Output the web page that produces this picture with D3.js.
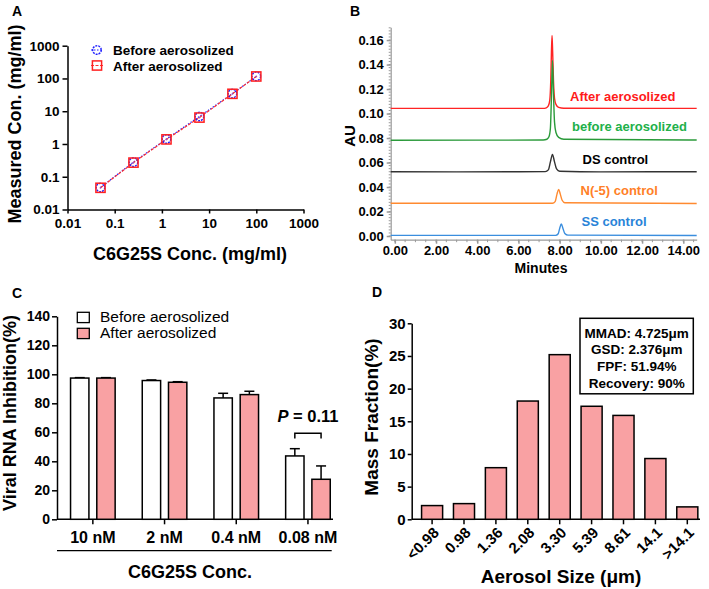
<!DOCTYPE html>
<html><head><meta charset="utf-8">
<script src="https://cdn.jsdelivr.net/npm/d3@7"></script>
<style>
html,body{margin:0;padding:0;background:#fff;}
svg{display:block;}
text{font-family:'Liberation Sans',Arial,sans-serif;}
</style></head>
<body>
<svg id="fig" width="709" height="589"></svg>
<script>
// ---------- Panel A data ----------
const concX = [0.05, 0.25, 1.25, 6.25, 31.25, 100];
const measuredBefore = [0.047, 0.28, 1.42, 6.9, 34.5, 116];
const measuredAfter = [0.046, 0.27, 1.38, 6.4, 34, 115];
const logTicks = [0.01, 0.1, 1, 10, 100, 1000];
const legendA = ["Before aerosolized", "After aerosolized"];

// ---------- Panel B data (time in min, AU) ----------
const traceLabels = ["After aerosolized", "before aerosolized", "DS control", "N(-5) control", "SS control"];
const traceAfter = [[-0.2,0.1042],[7.2,0.1042],[7.35,0.1047],[7.45,0.1062],[7.52,0.111],[7.57,0.128],[7.6,0.150],[7.63,0.1637],[7.66,0.150],[7.7,0.127],[7.75,0.1125],[7.82,0.1075],[7.95,0.105],[8.2,0.1043],[14.65,0.1042]];
const traceBefore = [[-0.2,0.0782],[7.2,0.0784],[7.38,0.079],[7.48,0.081],[7.55,0.088],[7.6,0.113],[7.65,0.1433],[7.7,0.116],[7.75,0.093],[7.82,0.0845],[7.95,0.0805],[8.2,0.079],[14.65,0.0784]];
const traceDS = [[-0.2,0.0525],[3.0,0.0524],[7.3,0.0526],[7.45,0.054],[7.55,0.0605],[7.65,0.0667],[7.75,0.0605],[7.85,0.0548],[8.0,0.0529],[10.0,0.0524],[14.65,0.0525]];
const traceN5 = [[-0.2,0.0268],[7.65,0.0268],[7.78,0.0281],[7.87,0.0342],[7.95,0.0381],[8.03,0.0342],[8.12,0.0292],[8.25,0.0272],[14.65,0.0266]];
const traceSS = [[-0.2,0.0005],[7.8,0.0005],[7.93,0.0019],[8.0,0.0062],[8.08,0.0098],[8.16,0.0062],[8.25,0.0021],[8.4,0.0007],[14.65,0.0004]];
const auTicks = [0, 0.02, 0.04, 0.06, 0.08, 0.10, 0.12, 0.14, 0.16];
const minuteTicks = [0, 2, 4, 6, 8, 10, 12, 14];

// ---------- Panel C data ----------
const concLabels = ["10 nM", "2 nM", "0.4 nM", "0.08 nM"];
const inhibBefore = [97.4, 95.7, 83.7, 43.7];
const inhibBeforeErr = [0.3, 0.4, 3.2, 5.0];
const inhibAfter = [97.4, 94.5, 86.0, 27.6];
const inhibAfterErr = [0.3, 0.4, 2.3, 9.2];
const inhibTicks = [0, 20, 40, 60, 80, 100, 120, 140];
const legendC = ["Before aerosolized", "After aerosolized"];

// ---------- Panel D data ----------
const sizeLabels = ["<0.98", "0.98", "1.36", "2.08", "3.30", "5.39", "8.61", "14.1", ">14.1"];
const massFraction = [2.1, 2.4, 7.9, 18.1, 25.2, 17.3, 15.9, 9.3, 1.9];
const fracTicks = [0, 5, 10, 15, 20, 25, 30];
const infoLines = ["MMAD: 4.725\u03bcm", "GSD: 2.376\u03bcm", "FPF: 51.94%", "Recovery: 90%"];

const PINK = "#f9a1a3";
const svg = d3.select("#fig");

function styleAxis(g, size, color) {
  g.selectAll("text").attr("font-weight", "bold").attr("font-size", size).attr("fill", "#000")
    .attr("font-family", "'Liberation Sans',Arial,sans-serif");
  g.selectAll("path,line").attr("stroke", color || "#000").attr("stroke-width", 1.5);
}

// panel letters
[["A",12,16],["B",350,16],["C",12,298],["D",372,297]].forEach(([t,x,y]) => {
  svg.append("text").attr("x", x).attr("y", y).attr("font-size", 14).attr("font-weight", "bold").text(t);
});

// ================= Panel A =================
{
  const x = d3.scaleLog().domain([0.01, 1000]).range([67.5, 303.5]);
  const y = d3.scaleLog().domain([0.01, 1000]).range([209.5, 45.7]);
  const fmt = d3.format("~g");
  const gx = svg.append("g").attr("transform", "translate(0,209.5)")
    .call(d3.axisBottom(x).tickValues(logTicks).tickFormat(fmt).tickSize(4).tickPadding(5).tickSizeOuter(0));
  styleAxis(gx, 13.5);
  const gy = svg.append("g").attr("transform", "translate(67.5,0)")
    .call(d3.axisLeft(y).tickValues(logTicks).tickFormat(fmt).tickSize(5).tickPadding(3).tickSizeOuter(0));
  styleAxis(gy, 13.5);

  const line = d3.line().x(d => x(d[0])).y(d => y(d[1]));
  const before = concX.map((c, i) => [c, measuredBefore[i]]);
  const after = concX.map((c, i) => [c, measuredAfter[i]]);
  svg.append("path").datum(before).attr("d", line).attr("fill", "none").attr("stroke", "#2020ff")
    .attr("stroke-width", 1.2).attr("stroke-dasharray", "1.5,1.5");
  svg.append("path").datum(after).attr("d", line).attr("fill", "none").attr("stroke", "#ff3030")
    .attr("stroke-width", 1.2).attr("stroke-dasharray", "3,1.5");
  svg.append("g").selectAll("circle").data(before).join("circle")
    .attr("cx", d => x(d[0])).attr("cy", d => y(d[1])).attr("r", 4.3)
    .attr("fill", "none").attr("stroke", "#2020ff").attr("stroke-width", 1.4).attr("stroke-dasharray", "2,1");
  svg.append("g").selectAll("rect").data(after).join("rect")
    .attr("x", d => x(d[0]) - 4.6).attr("y", d => y(d[1]) - 4.6).attr("width", 9.2).attr("height", 9.2)
    .attr("fill", "none").attr("stroke", "#ff2020").attr("stroke-width", 1.5);
  svg.append("g").selectAll("circle").data(after).join("circle")
    .attr("cx", d => x(d[0])).attr("cy", d => y(d[1])).attr("r", 0.9).attr("fill", "#a050c0");

  // legend
  const ly = [50, 65.5];
  svg.append("line").attr("x1", 91).attr("x2", 103).attr("y1", ly[0]).attr("y2", ly[0])
    .attr("stroke", "#2020ff").attr("stroke-dasharray", "1.5,1.5");
  svg.append("circle").attr("cx", 97).attr("cy", ly[0]).attr("r", 4.3).attr("fill", "none")
    .attr("stroke", "#2020ff").attr("stroke-width", 1.4).attr("stroke-dasharray", "2,1");
  svg.append("line").attr("x1", 91).attr("x2", 103).attr("y1", ly[1]).attr("y2", ly[1])
    .attr("stroke", "#ff3030").attr("stroke-dasharray", "3,1.5");
  svg.append("rect").attr("x", 92.4).attr("y", ly[1] - 4.6).attr("width", 9.2).attr("height", 9.2)
    .attr("fill", "none").attr("stroke", "#ff2020").attr("stroke-width", 1.5);
  legendA.forEach((t, i) => svg.append("text").attr("x", 113).attr("y", ly[i] + 5)
    .attr("font-size", 13.5).attr("font-weight", "bold").text(t));

  svg.append("text").attr("x", 190).attr("y", 260).attr("text-anchor", "middle")
    .attr("font-size", 18).attr("font-weight", "bold").text("C6G25S Conc. (mg/ml)");
  svg.append("text").attr("transform", "translate(21,124) rotate(-90)").attr("text-anchor", "middle")
    .attr("font-size", 18).attr("font-weight", "bold").text("Measured Con. (mg/ml)");
}

// ================= Panel B =================
{
  const x = d3.scaleLinear().domain([-0.2, 14.65]).range([390.7, 696.7]);
  const y = d3.scaleLinear().domain([-0.003, 0.1705]).range([239.7, 27.2]);
  const axisCol = "#9a9a9a";
  const gy = svg.append("g").attr("transform", "translate(390.7,0)")
    .call(d3.axisLeft(y).tickValues(auTicks).tickFormat(d3.format(".2f")).tickSize(4).tickPadding(3).tickSizeOuter(0));
  styleAxis(gy, 13, axisCol);
  gy.select("path").attr("stroke-width", 1.2);
  const minorY = d3.range(0, 0.1701, 0.0025);
  svg.append("g").selectAll("line").data(minorY).join("line")
    .attr("x1", 388.7).attr("x2", 390.7).attr("y1", d => y(d)).attr("y2", d => y(d))
    .attr("stroke", axisCol).attr("stroke-width", 1);
  const gx = svg.append("g").attr("transform", "translate(0,239.7)")
    .call(d3.axisBottom(x).tickValues(minuteTicks).tickFormat(d3.format(".2f")).tickSize(4).tickPadding(2).tickSizeOuter(0));
  styleAxis(gx, 13, axisCol);
  gx.select("path").attr("stroke-width", 1.2);
  const minorX = d3.range(0, 14.6, 0.5);
  svg.append("g").selectAll("line").data(minorX).join("line")
    .attr("x1", d => x(d)).attr("x2", d => x(d)).attr("y1", 239.7).attr("y2", 242.2)
    .attr("stroke", axisCol).attr("stroke-width", 1);

  const line = d3.line().x(d => x(d[0])).y(d => y(d[1])).curve(d3.curveMonotoneX);
  const traces = [traceAfter, traceBefore, traceDS, traceN5, traceSS];
  const cols = ["#ff2424", "#2a9a3a", "#333333", "#ff8a30", "#3b8ede"];
  const tcols = ["#ff1a1a", "#22b04a", "#000000", "#ff7f27", "#2a84d8"];
  traces.forEach((tr, i) => svg.append("path").datum(tr).attr("d", line).attr("fill", "none")
    .attr("stroke", cols[i]).attr("stroke-width", 1.4));
  const lpos = [[570, 100.5], [572, 131], [582.5, 163.5], [580.5, 194.5], [581.5, 225.5]];
  traceLabels.forEach((t, i) => svg.append("text").attr("x", lpos[i][0]).attr("y", lpos[i][1])
    .attr("font-size", 13).attr("font-weight", "bold").attr("fill", tcols[i]).text(t));

  svg.append("text").attr("transform", "translate(355,136) rotate(-90)").attr("text-anchor", "middle")
    .attr("font-size", 15).attr("font-weight", "bold").text("AU");
  svg.append("text").attr("x", 541).attr("y", 273).attr("text-anchor", "middle")
    .attr("font-size", 14).attr("font-weight", "bold").text("Minutes");
}

// ================= Panel C =================
{
  const y = d3.scaleLinear().domain([0, 140]).range([519.3, 316.3]);
  const x0 = d3.scaleBand().domain(concLabels).range([57, 343.8]).padding(0);
  const x1 = d3.scaleBand().domain(["before", "after"]).range([-22.3, 22.3]).paddingInner(0.3);
  const gy = svg.append("g").attr("transform", "translate(57,0)")
    .call(d3.axisLeft(y).tickValues(inhibTicks).tickSize(5).tickPadding(2).tickSizeOuter(0));
  styleAxis(gy, 14);
  svg.append("line").attr("x1", 57).attr("x2", 333).attr("y1", 519.3).attr("y2", 519.3)
    .attr("stroke", "#000").attr("stroke-width", 1.5);
  const gx = svg.append("g").attr("transform", "translate(0,519.3)")
    .call(d3.axisBottom(x0).tickSize(5).tickPadding(7).tickSizeOuter(0));
  styleAxis(gx, 16);
  gx.select("path").remove();

  const groups = concLabels.map((c, i) => ({ c, series: [
    { k: "before", v: inhibBefore[i], e: inhibBeforeErr[i], fill: "#ffffff" },
    { k: "after", v: inhibAfter[i], e: inhibAfterErr[i], fill: PINK }] }));
  const g = svg.append("g");
  groups.forEach(gr => {
    const cx = x0(gr.c) + x0.bandwidth() / 2;
    gr.series.forEach(s => {
      const bx = cx + x1(s.k);
      const bc = bx + x1.bandwidth() / 2;
      g.append("line").attr("x1", bc).attr("x2", bc).attr("y1", y(s.v)).attr("y2", y(s.v + s.e))
        .attr("stroke", "#000").attr("stroke-width", 1.5);
      g.append("line").attr("x1", bc - 5).attr("x2", bc + 5).attr("y1", y(s.v + s.e)).attr("y2", y(s.v + s.e))
        .attr("stroke", "#000").attr("stroke-width", 1.5);
      g.append("rect").attr("x", bx).attr("y", y(s.v)).attr("width", x1.bandwidth()).attr("height", y(0) - y(s.v))
        .attr("fill", s.fill).attr("stroke", "#000").attr("stroke-width", 1.5);
    });
  });
  const last = concLabels[3];
  const lc = x0(last) + x0.bandwidth() / 2;
  const bxA = lc + x1("before") + x1.bandwidth() / 2, bxB = lc + x1("after") + x1.bandwidth() / 2;
  svg.append("path").attr("d", `M${bxA},438.5V433.3H${bxB}V438.5`).attr("fill", "none")
    .attr("stroke", "#000").attr("stroke-width", 1.5);
  const pt = svg.append("text").attr("x", (bxA + bxB) / 2).attr("y", 421.7).attr("text-anchor", "middle")
    .attr("font-size", 16.5).attr("font-weight", "bold");
  pt.append("tspan").attr("font-style", "italic").text("P");
  pt.append("tspan").text(" = 0.11");

  const legY = [312.3, 328.3];
  const legF = ["#ffffff", PINK];
  legendC.forEach((t, i) => {
    svg.append("rect").attr("x", 77.3).attr("y", legY[i]).attr("width", 12).attr("height", 10.3)
      .attr("fill", legF[i]).attr("stroke", "#000").attr("stroke-width", 1.3);
    svg.append("text").attr("x", 100).attr("y", legY[i] + 10).attr("font-size", 15.5).text(t);
  });

  svg.append("line").attr("x1", 57).attr("x2", 331.7).attr("y1", 550.7).attr("y2", 550.7)
    .attr("stroke", "#000").attr("stroke-width", 1.2);
  svg.append("text").attr("x", 190).attr("y", 578).attr("text-anchor", "middle")
    .attr("font-size", 18).attr("font-weight", "bold").text("C6G25S Conc.");
  svg.append("text").attr("transform", "translate(16,413) rotate(-90)").attr("text-anchor", "middle")
    .attr("font-size", 18).attr("font-weight", "bold").text("Viral RNA Inhibition(%)");
}

// ================= Panel D =================
{
  const y = d3.scaleLinear().domain([0, 30]).range([519.3, 323.3]);
  const x = d3.scaleBand().domain(sizeLabels).range([412, 707.4]).paddingInner(0.34).paddingOuter(0.3);
  const gy = svg.append("g").attr("transform", "translate(411.7,0)")
    .call(d3.axisLeft(y).tickValues(fracTicks).tickSize(4).tickPadding(2).tickSizeOuter(0));
  styleAxis(gy, 15);
  svg.append("line").attr("x1", 411.7).attr("x2", 700).attr("y1", 519.3).attr("y2", 519.3)
    .attr("stroke", "#000").attr("stroke-width", 1.5);
  const gx = svg.append("g").attr("transform", "translate(0,519.3)")
    .call(d3.axisBottom(x).tickSize(5).tickFormat("").tickSizeOuter(0));
  styleAxis(gx, 14.5);
  gx.select("path").remove();
  svg.append("g").selectAll("text").data(sizeLabels).join("text")
    .attr("transform", d => `translate(${x(d) + x.bandwidth() / 2 + 4},${530}) rotate(-45)`)
    .attr("text-anchor", "end").attr("dy", "0.35em")
    .attr("font-size", 15).attr("font-weight", "bold").text(d => d);

  svg.append("g").selectAll("rect").data(sizeLabels).join("rect")
    .attr("x", d => x(d)).attr("width", x.bandwidth())
    .attr("y", (d, i) => y(massFraction[i])).attr("height", (d, i) => y(0) - y(massFraction[i]))
    .attr("fill", PINK).attr("stroke", "#000").attr("stroke-width", 1.5);

  svg.append("rect").attr("x", 580).attr("y", 318.3).attr("width", 113.3).attr("height", 75.5)
    .attr("fill", "#fff").attr("stroke", "#000").attr("stroke-width", 1.5);
  infoLines.forEach((t, i) => svg.append("text").attr("x", 636.7).attr("y", 337.5 + i * 16.7)
    .attr("text-anchor", "middle").attr("font-size", 13.5).attr("font-weight", "bold").text(t));

  svg.append("text").attr("x", 561).attr("y", 583).attr("text-anchor", "middle")
    .attr("font-size", 19).attr("font-weight", "bold").text("Aerosol Size (\u03bcm)");
  svg.append("text").attr("transform", "translate(378,417) rotate(-90)").attr("text-anchor", "middle")
    .attr("font-size", 19).attr("font-weight", "bold").text("Mass Fraction(%)");
}
</script>
</body></html>
